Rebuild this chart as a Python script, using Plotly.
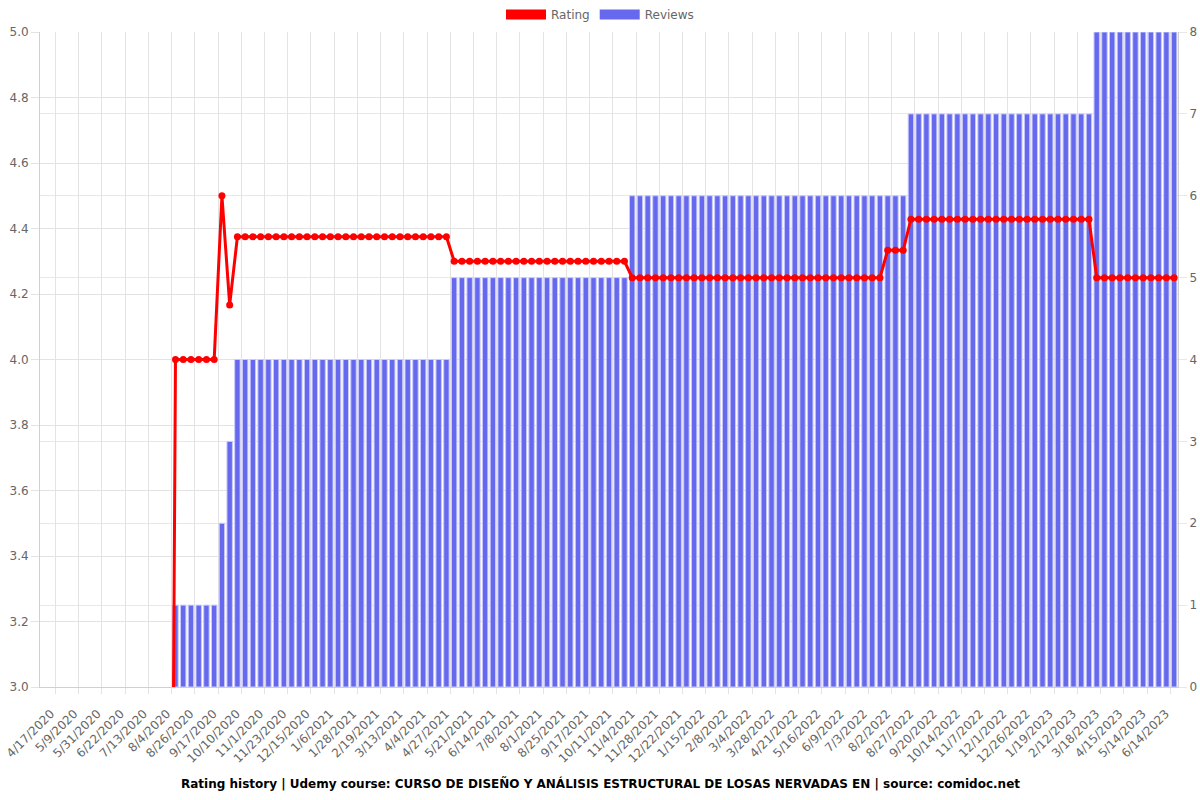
import plotly.graph_objects as go

# Categories (dates) – one per data point
dates = [
    "4/17/2020", "4/24/2020", "5/2/2020",
    "5/9/2020", "5/16/2020", "5/24/2020",
    "5/31/2020", "6/7/2020", "6/15/2020",
    "6/22/2020", "6/29/2020", "7/6/2020",
    "7/13/2020", "7/20/2020", "7/28/2020",
    "8/4/2020", "8/11/2020", "8/19/2020",
    "8/26/2020", "9/2/2020", "9/10/2020",
    "9/17/2020", "9/25/2020", "10/3/2020",
    "10/10/2020", "10/17/2020", "10/25/2020",
    "11/1/2020", "11/8/2020", "11/16/2020",
    "11/23/2020", "11/30/2020", "12/8/2020",
    "12/15/2020", "12/22/2020", "12/30/2020",
    "1/6/2021", "1/13/2021", "1/21/2021",
    "1/28/2021", "2/4/2021", "2/12/2021",
    "2/19/2021", "2/26/2021", "3/6/2021",
    "3/13/2021", "3/20/2021", "3/28/2021",
    "4/4/2021", "4/11/2021", "4/19/2021",
    "4/27/2021", "5/5/2021", "5/13/2021",
    "5/21/2021", "5/29/2021", "6/6/2021",
    "6/14/2021", "6/22/2021", "6/30/2021",
    "7/8/2021", "7/16/2021", "7/24/2021",
    "8/1/2021", "8/9/2021", "8/17/2021",
    "8/25/2021", "9/2/2021", "9/10/2021",
    "9/17/2021", "9/25/2021", "10/3/2021",
    "10/11/2021", "10/19/2021", "10/27/2021",
    "11/4/2021", "11/12/2021", "11/20/2021",
    "11/28/2021", "12/6/2021", "12/14/2021",
    "12/22/2021", "12/30/2021", "1/7/2022",
    "1/15/2022", "1/23/2022", "1/31/2022",
    "2/8/2022", "2/16/2022", "2/24/2022",
    "3/4/2022", "3/12/2022", "3/20/2022",
    "3/28/2022", "4/5/2022", "4/13/2022",
    "4/21/2022", "4/29/2022", "5/8/2022",
    "5/16/2022", "5/24/2022", "6/1/2022",
    "6/9/2022", "6/17/2022", "6/25/2022",
    "7/3/2022", "7/13/2022", "7/23/2022",
    "8/2/2022", "8/10/2022", "8/19/2022",
    "8/27/2022", "9/4/2022", "9/12/2022",
    "9/20/2022", "9/28/2022", "10/6/2022",
    "10/14/2022", "10/22/2022", "10/30/2022",
    "11/7/2022", "11/15/2022", "11/23/2022",
    "12/1/2022", "12/9/2022", "12/18/2022",
    "12/26/2022", "1/3/2023", "1/11/2023",
    "1/19/2023", "1/27/2023", "2/4/2023",
    "2/12/2023", "2/23/2023", "3/7/2023",
    "3/18/2023", "3/27/2023", "4/6/2023",
    "4/15/2023", "4/25/2023", "5/4/2023",
    "5/14/2023", "5/24/2023", "6/3/2023",
    "6/14/2023", "6/24/2023", "7/4/2023",
]

# Average rating per date (0 = no rating yet)
rating = (
    [0] * 17
    + [4.0] * 6
    + [4.5]
    + [4.1667]
    + [4.375] * 28
    + [4.3] * 23
    + [4.25] * 33
    + [4.3333] * 3
    + [4.4286] * 24
    + [4.25] * 11
)

# Number of reviews per date
reviews = (
    [0] * 17
    + [1] * 6
    + [2]
    + [3]
    + [4] * 28
    + [5] * 23
    + [6] * 36
    + [7] * 24
    + [8] * 11
)

RED = "rgb(255,0,0)"
BLUE = "rgb(102,104,238)"
BLUE_EDGE = "rgba(200,202,250,1)"

tick_step = 3
tick_dates = dates[::tick_step]
n = len(dates)
# Chart.js-style offset gridlines: midway between displayed ticks
tick_idx = list(range(0, n, tick_step))
grid_pos = [(a + b) / 2 for a, b in zip(tick_idx[:-1], tick_idx[1:])] + [tick_idx[-1] + tick_step / 2]

title = ("Rating history | Udemy course: CURSO DE DISEÑO Y ANÁLISIS ESTRUCTURAL "
         "DE LOSAS NERVADAS EN | source: comidoc.net")

fig = go.Figure()

fig.add_trace(go.Bar(
    x=dates, y=reviews, name="Reviews", showlegend=False,
    marker=dict(color=BLUE,
                line=dict(color=BLUE_EDGE, width=[1 if v > 0 else 0 for v in reviews])),
    yaxis="y", xaxis="x",
))

fig.add_trace(go.Scatter(
    x=dates, y=rating, name="Rating", mode="lines+markers", showlegend=False,
    line=dict(color=RED, width=3),
    marker=dict(color=RED, size=7),
    yaxis="y2", xaxis="x",
))

# legend-only entries drawn as wide boxes, like the original
fig.add_trace(go.Scatter(x=[None], y=[None], name="Rating", mode="lines",
                         line=dict(color=RED, width=14),
                         yaxis="y2", xaxis="x", hoverinfo="skip"))
fig.add_trace(go.Scatter(x=[None], y=[None], name="Reviews", mode="lines",
                         line=dict(color=BLUE, width=14),
                         yaxis="y2", xaxis="x", hoverinfo="skip"))

# invisible helper trace so the grid axis is rendered
fig.add_trace(go.Scatter(x=[-0.5, n - 0.5], y=[0, 0], mode="markers",
                         marker=dict(opacity=0), showlegend=False, hoverinfo="skip",
                         xaxis="x2", yaxis="y"))

fig.update_layout(
    width=1200, height=800,
    margin=dict(l=40, r=22, t=32, b=113, autoexpand=False),
    plot_bgcolor="white", paper_bgcolor="white",
    font=dict(family="DejaVu Sans", size=12, color="#666"),
    bargap=0.3, barmode="overlay",
    legend=dict(orientation="h", xref="container", x=0.5, xanchor="center",
                yref="container", y=1.0, yanchor="top",
                font=dict(size=12, color="#666"), itemwidth=40, tracegroupgap=0),
    xaxis=dict(
        type="category", tickmode="array", tickvals=tick_dates, ticktext=tick_dates,
        tickangle=-45, showgrid=False, ticks="outside", ticklen=6, tickcolor="rgba(0,0,0,0)",
        ticklabelshift=7, ticklabelstandoff=8,
        showline=True, linecolor="#d0d0d0", automargin=False,
        range=[-0.5, n - 0.5], tickfont=dict(size=12, color="#666"),
    ),
    xaxis2=dict(
        overlaying="x", range=[-0.5, n - 0.5], tickmode="array", tickvals=grid_pos,
        showticklabels=False, showgrid=True, gridcolor="#e3e3e3", ticks="outside",
        ticklen=6, tickcolor="#e3e3e3", zeroline=False, side="bottom", showline=False,
        automargin=False,
    ),
    yaxis=dict(
        side="right", range=[0, 8], dtick=1, showgrid=True, gridcolor="#e8e8e8",
        zeroline=False, showline=True, linecolor="#d0d0d0", ticks="outside",
        ticklen=8, tickcolor="#e8e8e8", tickfont=dict(size=12, color="#666"),
        automargin=False,
    ),
    yaxis2=dict(
        side="left", overlaying="y", range=[3, 5], dtick=0.2, tickformat=".1f",
        showgrid=True, gridcolor="#e3e3e3", zeroline=False, showline=True,
        linecolor="#d0d0d0", ticks="outside", ticklen=8, tickcolor="#e3e3e3",
        tickfont=dict(size=12, color="#666"), automargin=False,
    ),
    annotations=[dict(
        text="<b>" + title + "</b>", xref="paper", yref="paper", x=(600 - 40) / 1138, y=0,
        yshift=-96, showarrow=False, xanchor="center", yanchor="middle",
        font=dict(size=12, color="black", family="DejaVu Sans"),
    )],
)

fig.write_html("out.html")
